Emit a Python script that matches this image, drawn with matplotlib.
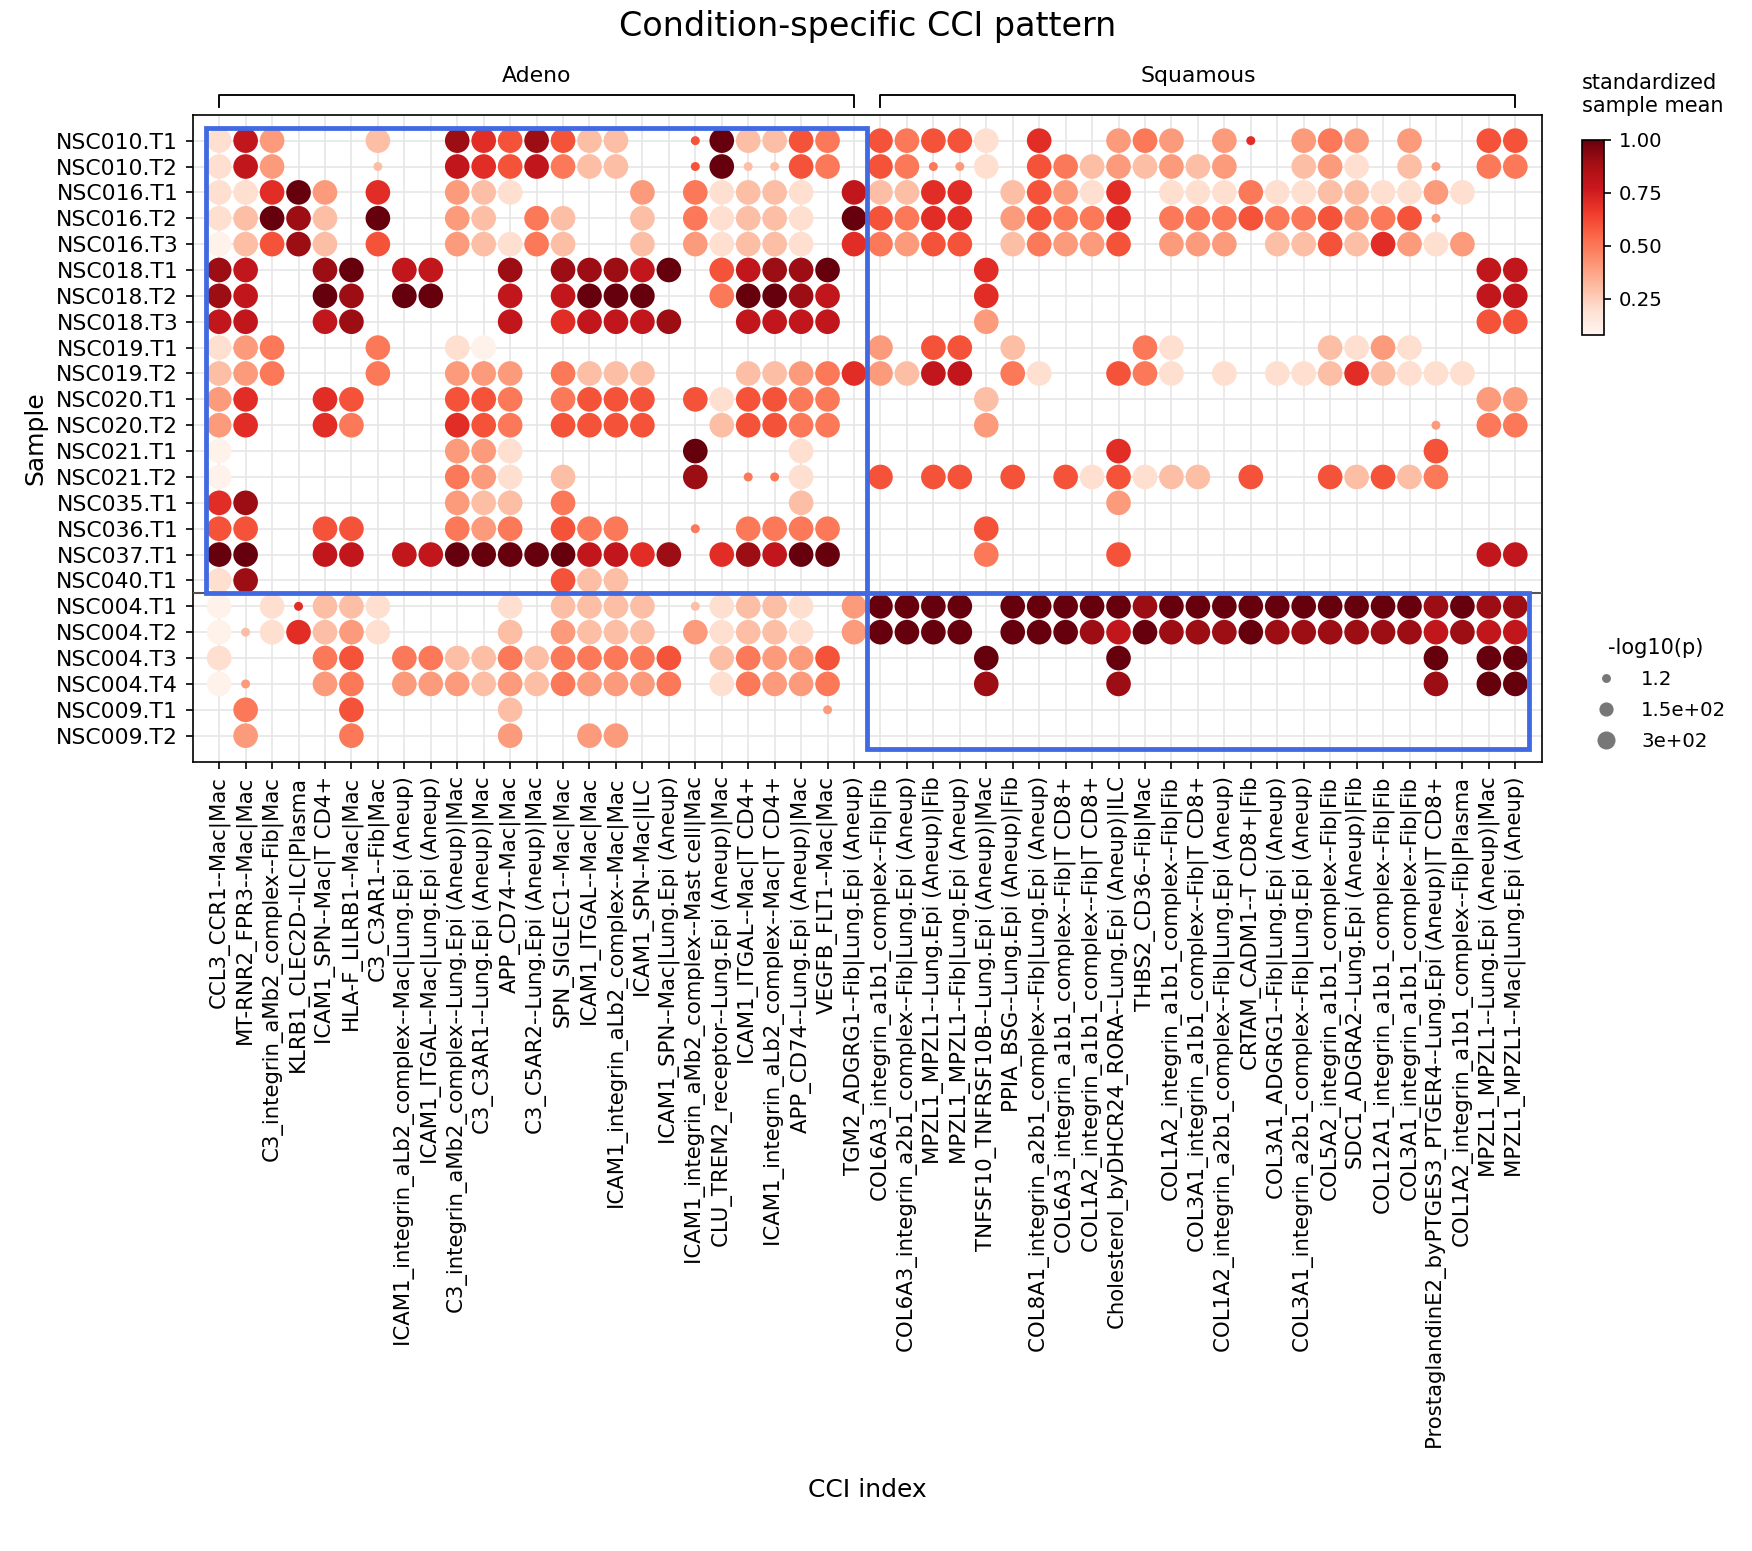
import matplotlib
matplotlib.use("Agg")
import matplotlib.pyplot as plt
import numpy as np
from matplotlib.lines import Line2D
from matplotlib.patches import Rectangle

cci = ["CCL3_CCR1--Mac|Mac","MT-RNR2_FPR3--Mac|Mac","C3_integrin_aMb2_complex--Fib|Mac","KLRB1_CLEC2D--ILC|Plasma",
"ICAM1_SPN--Mac|T CD4+","HLA-F_LILRB1--Mac|Mac","C3_C3AR1--Fib|Mac","ICAM1_integrin_aLb2_complex--Mac|Lung.Epi (Aneup)",
"ICAM1_ITGAL--Mac|Lung.Epi (Aneup)","C3_integrin_aMb2_complex--Lung.Epi (Aneup)|Mac","C3_C3AR1--Lung.Epi (Aneup)|Mac",
"APP_CD74--Mac|Mac","C3_C5AR2--Lung.Epi (Aneup)|Mac","SPN_SIGLEC1--Mac|Mac","ICAM1_ITGAL--Mac|Mac",
"ICAM1_integrin_aLb2_complex--Mac|Mac","ICAM1_SPN--Mac|ILC","ICAM1_SPN--Mac|Lung.Epi (Aneup)",
"ICAM1_integrin_aMb2_complex--Mast cell|Mac","CLU_TREM2_receptor--Lung.Epi (Aneup)|Mac","ICAM1_ITGAL--Mac|T CD4+",
"ICAM1_integrin_aLb2_complex--Mac|T CD4+","APP_CD74--Lung.Epi (Aneup)|Mac","VEGFB_FLT1--Mac|Mac",
"TGM2_ADGRG1--Fib|Lung.Epi (Aneup)","COL6A3_integrin_a1b1_complex--Fib|Fib",
"COL6A3_integrin_a2b1_complex--Fib|Lung.Epi (Aneup)","MPZL1_MPZL1--Lung.Epi (Aneup)|Fib",
"MPZL1_MPZL1--Fib|Lung.Epi (Aneup)","TNFSF10_TNFRSF10B--Lung.Epi (Aneup)|Mac","PPIA_BSG--Lung.Epi (Aneup)|Fib",
"COL8A1_integrin_a2b1_complex--Fib|Lung.Epi (Aneup)","COL6A3_integrin_a1b1_complex--Fib|T CD8+",
"COL1A2_integrin_a1b1_complex--Fib|T CD8+","Cholesterol_byDHCR24_RORA--Lung.Epi (Aneup)|ILC","THBS2_CD36--Fib|Mac",
"COL1A2_integrin_a1b1_complex--Fib|Fib","COL3A1_integrin_a1b1_complex--Fib|T CD8+",
"COL1A2_integrin_a2b1_complex--Fib|Lung.Epi (Aneup)","CRTAM_CADM1--T CD8+|Fib","COL3A1_ADGRG1--Fib|Lung.Epi (Aneup)",
"COL3A1_integrin_a2b1_complex--Fib|Lung.Epi (Aneup)","COL5A2_integrin_a1b1_complex--Fib|Fib",
"SDC1_ADGRA2--Lung.Epi (Aneup)|Fib","COL12A1_integrin_a1b1_complex--Fib|Fib","COL3A1_integrin_a1b1_complex--Fib|Fib",
"ProstaglandinE2_byPTGES3_PTGER4--Lung.Epi (Aneup)|T CD8+","COL1A2_integrin_a1b1_complex--Fib|Plasma",
"MPZL1_MPZL1--Lung.Epi (Aneup)|Mac","MPZL1_MPZL1--Mac|Lung.Epi (Aneup)"]

samples = ["NSC010.T1","NSC010.T2","NSC016.T1","NSC016.T2","NSC016.T3","NSC018.T1","NSC018.T2","NSC018.T3",
"NSC019.T1","NSC019.T2","NSC020.T1","NSC020.T2","NSC021.T1","NSC021.T2","NSC035.T1","NSC036.T1","NSC037.T1",
"NSC040.T1","NSC004.T1","NSC004.T2","NSC004.T3","NSC004.T4","NSC009.T1","NSC009.T2"]

# per row: digit = colour level (large dot), letter a-j = colour level (small dot), '.' = none
grid = [
"173...2..8"+"658522..f9"+"2254.54551"+".6..343.3g"+".343.3..55",
"173...c..7"+"657422..f9"+"cc54.54ed1"+".54232323."+".231.2d.44",
"11693.6..3"+"21....3.41"+"221.72266."+"25316.1114"+"11221131..",
"12982.9..3"+"2.42..2.41"+"221.95466."+"35446.4445"+"445345d...",
"02582.5..3"+"2142..2.31"+"221.64355."+"24335.333."+"22526313..",
"87..89.77."+".8.88879.5"+"7889.....6"+".........."+"........77",
"87..98.99."+".7.7999..4"+"9987.....6"+".........."+"........77",
"77..78...."+".7.67778.."+"7777.....3"+".........."+"........55",
"134...4..1"+"0........."+".....3.55."+"2....41..."+"..2131....",
"234...4..3"+"33.4222..."+"223463277."+"41..541.1."+"11262111..",
"36..65...5"+"54.4555.51"+"5544.....2"+".........."+"........33",
"36..64...6"+"54.5555..2"+"5544.....3"+".........."+"......d.44",
"0........3"+"31......9."+"..1......."+"....6....."+"......5...",
"0........4"+"31.2....8."+"ee1..5.55."+"5.515122.5"+"..52524...",
"68.......3"+"22.4......"+"..2......."+"....3....."+"..........",
"55..55...4"+"34.544..e."+"4444.....5"+".........."+"..........",
"99..77.779"+"99997768.6"+"8799.....4"+"....5....."+"........77",
"18........"+"...522...."+".........."+".........."+"..........",
"0.1g221..."+".1.2222.c1"+"221.39999."+"9999989999"+"9999998988",
"0c16231..."+".2.3222.31"+"221.39999."+"9998798889"+"8888887877",
"1...45.442"+"24244445.2"+"4335.....9"+"....9....."+"......9.99",
"0d..34.333"+"23243334.1"+"4334.....8"+"....8....."+"......8.99",
".4...5...."+".2........"+"...d......"+".........."+"..........",
".3...4...."+".3..33...."+".........."+".........."+"..........",
]
n_adeno_samples = 18
n_adeno_cci = 25
big_p, small_p = 640.0, 3.0
legend_p = [1.2, 150, 300]

def size_of(p):
    return 18 + p * 0.19

xs, ys, cs, ss = [], [], [], []
for r, row in enumerate(grid):
    for c, ch in enumerate(row):
        if ch == '.':
            continue
        if ch.isdigit():
            lvl, p = int(ch), big_p
        else:
            lvl, p = ord(ch) - ord('a'), small_p
        xs.append(c); ys.append(r); cs.append(0.1 + 0.1 * lvl); ss.append(size_of(p))

fig = plt.figure(figsize=(11.68, 10.34), dpi=150)
ax = fig.add_axes([0.110, 0.509, 0.770, 0.417])
ax.set_axisbelow(True)
ax.grid(True, color="#e6e6e6", lw=0.8)
sc = ax.scatter(xs, ys, c=cs, s=ss, cmap="Reds", vmin=0.08, vmax=1.0, edgecolors="none", zorder=3)
ax.set_xlim(-1, len(cci))
ax.set_ylim(len(samples), -1)
ax.set_xticks(range(len(cci)))
ax.set_xticklabels(cci, rotation=90, fontsize=10.2)
ax.set_yticks(range(len(samples)))
ax.set_yticklabels(samples, fontsize=10.5)
ax.set_xlabel("CCI index", fontsize=12, labelpad=14)
ax.set_ylabel("Sample", fontsize=12)
ax.set_title("Condition-specific CCI pattern", fontsize=16, pad=38)

ax.axhline(n_adeno_samples - 0.5, color="#555555", lw=1.0, zorder=4)
ax.add_patch(Rectangle((-0.5, -0.5), n_adeno_cci, n_adeno_samples, fill=False, ec="#4169e1", lw=2.3, zorder=5))
ax.add_patch(Rectangle((n_adeno_cci - 0.5, n_adeno_samples - 0.5), len(cci) - n_adeno_cci,
                       len(samples) - n_adeno_samples, fill=False, ec="#4169e1", lw=2.3, zorder=5))

for x0, x1, lab in [(0, n_adeno_cci - 1, "Adeno"), (n_adeno_cci, len(cci) - 1, "Squamous")]:
    ax.plot([x0, x0, x1, x1], [-1.3, -1.75, -1.75, -1.3], color="black", lw=0.9, clip_on=False)
    ax.text((x0 + x1) / 2, -2.1, lab, ha="center", va="bottom", fontsize=10.5)

cax = fig.add_axes([0.903, 0.784, 0.0126, 0.126])
cb = fig.colorbar(sc, cax=cax, ticks=[0.25, 0.5, 0.75, 1.0])
cb.ax.tick_params(labelsize=9.5)
fig.text(0.903, 0.925, "standardized\nsample mean", ha="left", va="bottom", fontsize=10)

handles = [Line2D([], [], ls="none", marker="o", color="#777777", markeredgecolor="none",
                  markersize=np.sqrt(size_of(p))) for p in legend_p]
fig.legend(handles, ["1.2", "1.5e+02", "3e+02"], title="-log10(p)", loc="upper left",
           bbox_to_anchor=(0.895, 0.6), frameon=False, fontsize=9.5, title_fontsize=10, labelspacing=0.6)

fig.savefig("out.png", dpi=150)
